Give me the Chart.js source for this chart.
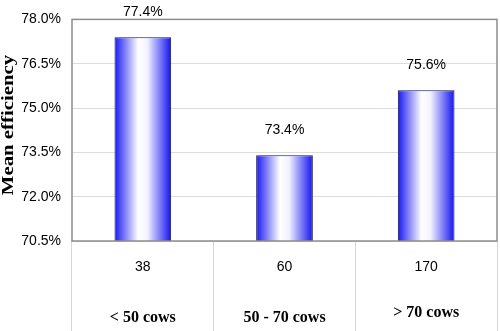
<!DOCTYPE html>
<html>
<head>
<meta charset="utf-8">
<script src="https://cdn.jsdelivr.net/npm/chart.js@4/dist/chart.umd.min.js"></script>
<style>
  html, body { margin: 0; padding: 0; background: #fff; }
  #wrap { width: 500px; height: 331px; }
</style>
</head>
<body>
<div id="wrap"><canvas id="chart" width="500" height="331"></canvas></div>
<script>
// data
const categories = ['< 50 cows', '50 - 70 cows', '> 70 cows'];
const herdCounts = ['38', '60', '170'];
const efficiency = [77.4, 73.4, 75.6];
const yTicks = [70.5, 72.0, 73.5, 75.0, 76.5, 78.0];

// horizontal blue-white-blue gradient on each bar
const barShading = {
  id: 'barShading',
  beforeDatasetsDraw(chart) {
    const ctx = chart.ctx;
    chart.getDatasetMeta(0).data.forEach(bar => {
      const left = bar.x - bar.width / 2;
      const g = ctx.createLinearGradient(left, 0, left + bar.width, 0);
      g.addColorStop(0, '#1818f2');
      g.addColorStop(0.42, '#ffffff');
      g.addColorStop(0.58, '#f2f2ff');
      g.addColorStop(1, '#1212f0');
      bar.options.backgroundColor = g;
    });
  }
};

// value labels, plot frame, axis title and the table under the plot
const extras = {
  id: 'extras',
  afterDraw(chart) {
    const ctx = chart.ctx;
    const area = chart.chartArea;
    const x = chart.scales.x;

    ctx.save();
    ctx.strokeStyle = '#8c8c8c';
    ctx.lineWidth = 1.5;
    ctx.strokeRect(area.left, area.top, area.right - area.left, area.bottom - area.top);

    ctx.fillStyle = '#000';
    ctx.textAlign = 'center';
    ctx.textBaseline = 'middle';
    ctx.font = '14px "Liberation Sans", Arial, sans-serif';
    chart.getDatasetMeta(0).data.forEach((bar, i) => {
      ctx.fillText(efficiency[i].toFixed(1) + '%', bar.x, bar.y - 25);
    });

    herdCounts.forEach((n, i) => {
      ctx.fillText(n, x.getPixelForValue(i), area.bottom + 26);
    });
    ctx.font = 'bold 16px "Liberation Serif", "Times New Roman", serif';
    categories.forEach((c, i) => {
      ctx.fillText(c, x.getPixelForValue(i), area.bottom + (i === 2 ? 72 : 77));
    });

    ctx.translate(13, 125);
    ctx.rotate(-Math.PI / 2);
    ctx.scale(1.3, 1);
    ctx.textBaseline = 'alphabetic';
    ctx.fillText('Mean efficiency', 0, 0);
    ctx.restore();
  }
};

new Chart(document.getElementById('chart'), {
  type: 'bar',
  data: {
    labels: categories,
    datasets: [{
      data: efficiency,
      // scriptable so every bar gets its own options object
      backgroundColor: c => '#1818f2',
      borderColor: '#14145a',
      borderWidth: 1,
      borderSkipped: false,
      categoryPercentage: 1,
      barPercentage: 0.4
    }]
  },
  options: {
    responsive: false,
    animation: false,
    layout: { padding: { top: 15, right: 3, left: 0, bottom: 0 } },
    plugins: { legend: { display: false }, tooltip: { enabled: false } },
    scales: {
      x: {
        offset: true,
        border: { display: false },
        grid: { offset: true, drawOnChartArea: false, tickLength: 90, color: '#d6d6d6', lineWidth: 1 },
        ticks: { display: false },
        afterFit: s => { s.height = 90; }
      },
      y: {
        min: yTicks[0],
        max: yTicks[yTicks.length - 1],
        border: { display: false },
        grid: { drawTicks: false, color: '#dcdcdc' },
        afterBuildTicks: s => { s.ticks = yTicks.map(v => ({ value: v })); },
        ticks: {
          padding: 11,
          color: '#000',
          font: { family: '"Liberation Sans", Arial, sans-serif', size: 14 },
          callback: v => v.toFixed(1) + '%'
        },
        afterFit: s => { s.width = 72; }
      }
    }
  },
  plugins: [barShading, extras]
});
</script>
</body>
</html>
